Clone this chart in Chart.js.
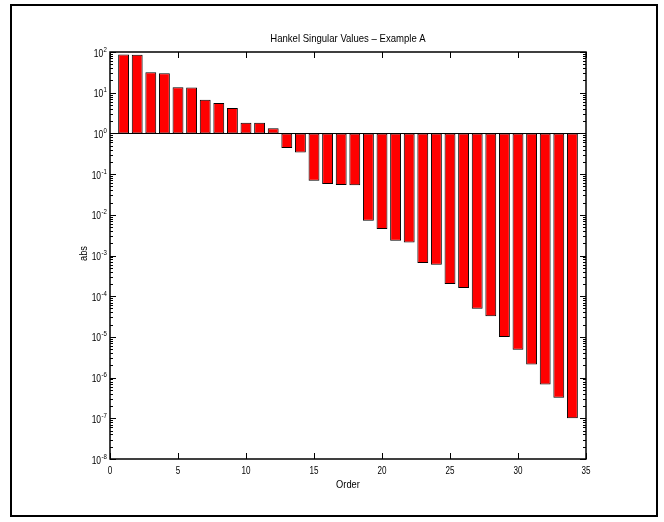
<!DOCTYPE html>
<html>
<head>
<meta charset="utf-8">
<script src="https://cdn.jsdelivr.net/npm/chart.js@4/dist/chart.umd.min.js"></script>
<style>
html,body{margin:0;padding:0;background:#fff;}
#wrap{width:664px;height:522px;position:relative;}
canvas{display:block;}
</style>
</head>
<body>
<div id="wrap"><canvas id="c" width="664" height="522"></canvas></div>
<script>
// ---- data ----
const orders = [1,2,3,4,5,6,7,8,9,10,11,12,13,14,15,16,17,18,19,20,21,22,23,24,25,26,27,28,29,30,31,32,33,34];
const hankelValues = [87, 86, 31.6, 30, 13.7, 13.5, 6.7, 5.55, 4.2, 1.83, 1.82, 1.33,
  0.435, 0.34, 0.069, 0.057, 0.054, 0.053, 0.0071, 0.0045, 0.0023, 0.0021,
  6.5e-4, 5.9e-4, 2.0e-4, 1.6e-4, 4.9e-5, 3.2e-5, 1.0e-5, 4.8e-6, 2.1e-6, 6.8e-7, 3.2e-7, 1.0e-7];
const barBase = 1;
const xTickValues = [0,5,10,15,20,25,30,35];
const yTickExponents = [2,1,0,-1,-2,-3,-4,-5,-6,-7,-8];
const titleText = 'Hankel Singular Values \u2013 Example A';
const xLabelText = 'Order';
const yLabelText = 'abs';

const FONT = '"Liberation Sans", Arial, Helvetica, sans-serif';
const NARROW = 0.81;

const barData = orders.map((o, i) => ({ x: o, y: [barBase, hankelValues[i]] }));

// draw horizontally condensed text (Helvetica-Narrow look)
function narrowText(ctx, str, px, py, size, align) {
  ctx.save();
  ctx.font = size + 'px ' + FONT;
  ctx.textBaseline = 'alphabetic';
  ctx.textAlign = align;
  ctx.translate(px, py);
  ctx.scale(NARROW, 1);
  ctx.fillText(str, 0, 0);
  const w = ctx.measureText(str).width * NARROW;
  ctx.restore();
  return w;
}
function narrowWidth(ctx, str, size) {
  ctx.save();
  ctx.font = size + 'px ' + FONT;
  const w = ctx.measureText(str).width * NARROW;
  ctx.restore();
  return w;
}

const decor = {
  id: 'decor',
  beforeDraw(chart) {
    const ctx = chart.ctx;
    ctx.save();
    ctx.fillStyle = '#fff';
    ctx.fillRect(0, 0, chart.width, chart.height);
    ctx.restore();
  },
  afterDraw(chart) {
    const { ctx, chartArea: a, scales: { x, y } } = chart;
    ctx.save();
    ctx.strokeStyle = '#000';
    ctx.fillStyle = '#000';

    // bar baseline across the axes
    const yb = Math.round(y.getPixelForValue(barBase)) + 0.5;
    ctx.lineWidth = 1;
    ctx.beginPath();
    ctx.moveTo(a.left, yb); ctx.lineTo(a.right, yb);
    ctx.stroke();

    // minor y ticks
    ctx.beginPath();
    for (let e = -8; e < 2; e++) {
      for (let k = 2; k <= 9; k++) {
        const py = Math.round(y.getPixelForValue(k * Math.pow(10, e))) + 0.5;
        ctx.moveTo(a.left, py); ctx.lineTo(a.left + 3, py);
        ctx.moveTo(a.right, py); ctx.lineTo(a.right - 3, py);
      }
    }
    ctx.stroke();

    // major ticks
    ctx.beginPath();
    yTickExponents.forEach(e => {
      const py = Math.round(y.getPixelForValue(Math.pow(10, e))) + 0.5;
      ctx.moveTo(a.left, py); ctx.lineTo(a.left + 6, py);
      ctx.moveTo(a.right, py); ctx.lineTo(a.right - 6, py);
    });
    xTickValues.forEach(v => {
      const px = Math.round(x.getPixelForValue(v)) + 0.5;
      ctx.moveTo(px, a.bottom); ctx.lineTo(px, a.bottom - 6);
      ctx.moveTo(px, a.top); ctx.lineTo(px, a.top + 6);
    });
    ctx.stroke();

    // axes box
    ctx.lineWidth = 1.5;
    ctx.strokeRect(a.left, a.top, a.right - a.left, a.bottom - a.top);

    // x tick labels
    xTickValues.forEach(v => {
      narrowText(ctx, String(v), x.getPixelForValue(v), a.bottom + 15, 10, 'center');
    });

    // y tick labels 10^e
    const rightEdge = a.left - 3;
    yTickExponents.forEach(e => {
      const py = y.getPixelForValue(Math.pow(10, e));
      const expStr = String(e);
      const ew = narrowWidth(ctx, expStr, 7.5);
      narrowText(ctx, expStr, rightEdge, py - 0.5, 7.5, 'right');
      narrowText(ctx, '10', rightEdge - ew - 0.5, py + 4.5, 10.5, 'right');
    });

    // title
    narrowText(ctx, titleText, (a.left + a.right) / 2, 42, 11.8, 'center');

    // x label
    narrowText(ctx, xLabelText, (a.left + a.right) / 2, 488, 11.5, 'center');

    // y label (rotated)
    ctx.save();
    ctx.translate(87, (a.top + a.bottom) / 2 - 2);
    ctx.rotate(-Math.PI / 2);
    narrowText(ctx, yLabelText, 0, 0, 11.5, 'center');
    ctx.restore();

    // figure frame
    ctx.lineWidth = 2;
    ctx.strokeRect(11, 5, 646, 511);
    ctx.restore();
  }
};

new Chart(document.getElementById('c'), {
  type: 'bar',
  data: {
    datasets: [{
      data: barData,
      backgroundColor: '#ff0000',
      borderColor: '#000000',
      borderWidth: 1,
      borderSkipped: false,
      barPercentage: 0.8,
      categoryPercentage: 1.0
    }]
  },
  options: {
    responsive: false,
    animation: false,
    devicePixelRatio: 1,
    layout: { padding: { left: 110, right: 78, top: 52, bottom: 63 } },
    plugins: { legend: { display: false }, tooltip: { enabled: false }, title: { display: false } },
    scales: {
      x: { type: 'linear', min: 0, max: 35, offset: false, display: false, grid: { display: false } },
      y: { type: 'logarithmic', min: 1e-8, max: 1e2, display: false, grid: { display: false } }
    }
  },
  plugins: [decor]
});
</script>
</body>
</html>
